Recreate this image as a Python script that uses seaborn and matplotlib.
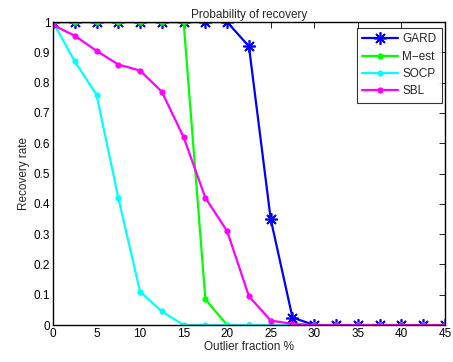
import numpy as np
import pandas as pd
import matplotlib
matplotlib.use('Agg')
import matplotlib.pyplot as plt
import seaborn as sns

# outlier fraction (%)
frac = [0, 2.5, 5, 7.5, 10, 12.5, 15, 17.5, 20, 22.5, 25, 27.5, 30, 32.5, 35, 37.5, 40, 42.5, 45]

gard = [1, 1, 1, 1, 1, 1, 1, 1, 1, 0.92, 0.35, 0.025, 0, 0, 0, 0, 0, 0, 0]
mest = [1, 1, 1, 1, 1, 1, 1, 0.085, 0, 0, 0, 0, 0, 0, 0, 0, 0, 0, 0]
socp = [1, 0.87, 0.76, 0.42, 0.11, 0.045, 0, 0, 0, 0, 0, 0, 0, 0, 0, 0, 0, 0, 0]
sbl = [0.99, 0.955, 0.905, 0.86, 0.84, 0.77, 0.62, 0.42, 0.31, 0.095, 0.015, 0.004, 0, 0, 0, 0, 0, 0, 0]

sns.set_style('white')
plt.rcParams['font.family'] = ['Liberation Sans', 'DejaVu Sans']
plt.rcParams['font.size'] = 8.5

fig = plt.figure(figsize=(4.53, 3.62), dpi=100)
ax = fig.add_axes([0.117, 0.102, 0.865, 0.837])

sns.lineplot(x=frac, y=gard, ax=ax, label='GARD', color='#0000ff', linewidth=1.6,
             marker=(8, 2, 0), markersize=9, markeredgewidth=1.2, markeredgecolor='#0000ff')
sns.lineplot(x=frac, y=mest, ax=ax, label='M\u2212est', color='#00ff00', linewidth=1.6,
             marker='o', markersize=4.5, markeredgewidth=0)
sns.lineplot(x=frac, y=socp, ax=ax, label='SOCP', color='#00ffff', linewidth=1.6,
             marker='o', markersize=4.5, markeredgewidth=0)
sns.lineplot(x=frac, y=sbl, ax=ax, label='SBL', color='#ff00ff', linewidth=1.6,
             marker='o', markersize=4.5, markeredgewidth=0)

ax.set_xlim(0, 45)
ax.set_ylim(0, 1)
ax.set_xticks(np.arange(0, 46, 5))
ax.set_yticks(np.arange(0, 1.01, 0.1))
ax.set_yticklabels(['0', '0.1', '0.2', '0.3', '0.4', '0.5', '0.6', '0.7', '0.8', '0.9', '1'])
ax.tick_params(direction='in', length=4, width=0.6, top=True, right=True,
               labelsize=8.5, pad=2, colors='black')
for s in ax.spines.values():
    s.set_color('black')
    s.set_linewidth(1.0)

ax.set_xlabel('Outlier fraction %', fontsize=8.5, labelpad=1)
ax.set_ylabel('Recovery rate', fontsize=8.5, labelpad=3)
ax.set_title('Probability of recovery', fontsize=8.5, pad=3)

leg = ax.legend(loc='upper right', fontsize=8.5, frameon=True, fancybox=False,
                borderpad=0.45, handlelength=3.0, handletextpad=0.4, labelspacing=0.45,
                borderaxespad=0, bbox_to_anchor=(0.992, 0.98))
leg.get_frame().set_edgecolor('black')
leg.get_frame().set_linewidth(0.8)

fig.savefig('out.png', dpi=100)
